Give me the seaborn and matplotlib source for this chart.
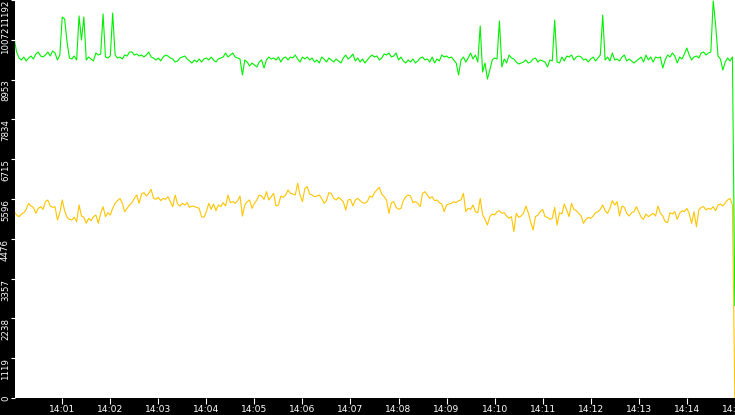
import numpy as np
import pandas as pd
import seaborn as sns
import matplotlib.pyplot as plt
import matplotlib.dates as mdates

# one sample every 3 s from 14:00:00 to 14:15:00
times = pd.date_range("2024-01-01 14:00:00", "2024-01-01 14:15:00", freq="3s")

green_vals = [
    10095, 9730, 9561, 9505, 9589, 9477, 9561, 9617, 9533, 9673, 9730, 9617, 9589, 9645, 9730, 9617, 9758, 9702, 9505, 9645,
    10714, 10657, 10011, 9561, 9533, 9617, 9505, 10742, 10067, 10714, 9505, 9589, 9533, 9477, 9702, 9645, 9673, 10798, 9589, 9561,
    9617, 10826, 9645, 9561, 9589, 9533, 9645, 9617, 9730, 9730, 9645, 9673, 9617, 9645, 9589, 9645, 9730, 9589, 9561, 9505,
    9561, 9477, 9589, 9645, 9617, 9561, 9533, 9448, 9477, 9561, 9589, 9617, 9533, 9477, 9420, 9505, 9448, 9533, 9448, 9533,
    9561, 9505, 9589, 9505, 9448, 9533, 9561, 9589, 9702, 9589, 9645, 9702, 9589, 9561, 9533, 9083, 9505, 9448, 9336, 9420,
    9364, 9308, 9448, 9505, 9280, 9505, 9589, 9533, 9561, 9505, 9589, 9448, 9561, 9589, 9505, 9589, 9561, 9645, 9533, 9448,
    9589, 9533, 9589, 9505, 9561, 9448, 9505, 9420, 9589, 9533, 9448, 9561, 9505, 9448, 9533, 9477, 9420, 9561, 9645, 9533,
    9589, 9673, 9477, 9561, 9448, 9533, 9420, 9505, 9589, 9645, 9589, 9617, 9505, 9561, 9673, 9645, 9702, 9589, 9617, 9702,
    9505, 9589, 9477, 9420, 9505, 9448, 9533, 9420, 9477, 9561, 9589, 9505, 9533, 9448, 9589, 9420, 9533, 9477, 9645, 9589,
    9617, 9561, 9589, 9505, 9420, 9083, 9505, 9589, 9448, 9561, 9702, 9533, 9645, 9448, 10461, 9167, 9420, 8970, 9223, 9505,
    9561, 9533, 10601, 9308, 9533, 9420, 9645, 9561, 9533, 9448, 9392, 9420, 9448, 9505, 9420, 9448, 9533, 9561, 9448, 9505,
    9477, 9448, 9308, 9505, 9477, 10629, 9448, 9420, 9589, 9477, 9617, 9589, 9645, 9505, 9589, 9617, 9589, 9505, 9533, 9448,
    9533, 9589, 9477, 9561, 9645, 10770, 9505, 9589, 9477, 9702, 9505, 9533, 9477, 9589, 9645, 9477, 9533, 9477, 9420, 9477,
    9533, 9589, 9448, 9645, 9505, 9589, 9448, 9589, 9561, 9589, 9280, 9505, 9645, 9589, 9702, 9617, 9420, 9589, 9533, 9673,
    9842, 9645, 9505, 9589, 9617, 9561, 9702, 9730, 9645, 9702, 9730, 11164, 10489, 9617, 9533, 9223, 9448, 9561, 9477, 9589,
    2600,
]

yellow_vals = [
    5240, 5146, 5099, 5174, 5211, 5305, 5474, 5399, 5361, 5193, 5333, 5380, 5305, 5521, 5568, 5399, 5361, 5380, 5005, 5211,
    5568, 5268, 5080, 5024, 5005, 5080, 4958, 5427, 5118, 5080, 4912, 5052, 4986, 5099, 5146, 4912, 5193, 5380, 5099, 5211,
    5146, 5333, 5474, 5549, 5614, 5474, 5240, 5333, 5427, 5493, 5614, 5708, 5474, 5736, 5774, 5680, 5755, 5868, 5614, 5586,
    5643, 5549, 5614, 5586, 5661, 5521, 5380, 5708, 5455, 5399, 5474, 5427, 5493, 5361, 5399, 5380, 5361, 5333, 5099, 5080,
    5240, 5474, 5305, 5455, 5268, 5427, 5380, 5493, 5399, 5708, 5493, 5521, 5474, 5549, 5680, 5118, 5427, 5521, 5568, 5333,
    5474, 5568, 5708, 5680, 5586, 5802, 5568, 5661, 5755, 5399, 5427, 5680, 5643, 5708, 5849, 5755, 5736, 5708, 6036, 5708,
    5521, 5896, 5943, 5736, 5708, 5661, 5680, 5708, 5614, 5474, 5549, 5774, 5755, 5614, 5568, 5643, 5586, 5521, 5286, 5568,
    5586, 5399, 5568, 5614, 5549, 5493, 5474, 5521, 5680, 5643, 5774, 5849, 5924, 5736, 5661, 5568, 5193, 5493, 5521, 5361,
    5305, 5333, 5549, 5661, 5708, 5680, 5493, 5521, 5474, 5380, 5755, 5802, 5708, 5614, 5661, 5549, 5568, 5493, 5455, 5240,
    5427, 5455, 5474, 5521, 5493, 5549, 5568, 5755, 5240, 5333, 5305, 5427, 5240, 5211, 5614, 5146, 5024, 4865, 5099, 5174,
    5146, 5240, 5268, 5193, 5211, 5118, 5052, 5099, 4677, 5193, 5080, 5118, 5193, 5399, 5211, 4958, 4724, 5099, 5146, 5240,
    5305, 5099, 5080, 5024, 5052, 5361, 4865, 5211, 5174, 5455, 5286, 5099, 5474, 5305, 5268, 5193, 5118, 4912, 5024, 5080,
    5052, 5118, 5211, 5240, 5305, 5427, 5268, 5193, 5333, 5549, 5427, 5521, 5118, 5399, 5361, 5193, 5118, 5211, 5240, 5380,
    5240, 5080, 5024, 5174, 5099, 5146, 5193, 5118, 5399, 5193, 5118, 4958, 4930, 5211, 5174, 5240, 5024, 5193, 5268, 5240,
    5333, 5193, 4912, 5240, 4818, 5286, 5361, 5380, 5286, 5333, 5305, 5380, 5268, 5427, 5455, 5399, 5493, 5568, 5614, 5427,
    0,
]

y_max = 11192
ytick_labels = ["0", "1119", "2238", "3357", "4476", "5596", "6715", "7834", "8953", "10072", "11192"]

df = pd.DataFrame({"time": times, "green": green_vals, "yellow": yellow_vals})

fig = plt.figure(figsize=(7.35, 4.15), dpi=100, facecolor="black")
ax = fig.add_axes([15 / 735, 17 / 415, 720 / 735, 398 / 415])
ax.set_facecolor("white")

sns.lineplot(data=df, x="time", y="yellow", ax=ax, color="#ffc400", lw=0.8, estimator=None)
sns.lineplot(data=df, x="time", y="green", ax=ax, color="#00f000", lw=0.8, estimator=None)

ax.set_ylim(0, y_max)
ax.set_xlim(pd.Timestamp("2024-01-01 14:00:01"), pd.Timestamp("2024-01-01 14:15:00.2"))
ax.set_xlabel("")
ax.set_ylabel("")

ax.set_yticks(np.linspace(0, y_max, 11))
ax.set_yticklabels(ytick_labels)
ax.xaxis.set_major_locator(mdates.MinuteLocator())
ax.xaxis.set_major_formatter(mdates.DateFormatter("%H:%M"))

ax.tick_params(colors="white", width=0.8)
ax.tick_params(axis="y", labelsize=6.2, length=3, pad=0.6)
ax.tick_params(axis="x", labelsize=6.6, length=4, pad=1)

# y labels hang below their tick, like the reference
for lab in ax.get_yticklabels():
    lab.set_rotation(90)
    lab.set_va("top")
ylabs = ax.get_yticklabels()
ylabs[0].set_va("center")
ylabs[-2].set_va("center")

for s in ax.spines.values():
    s.set_visible(False)

fig.savefig("out.png", dpi=100, facecolor="black")
